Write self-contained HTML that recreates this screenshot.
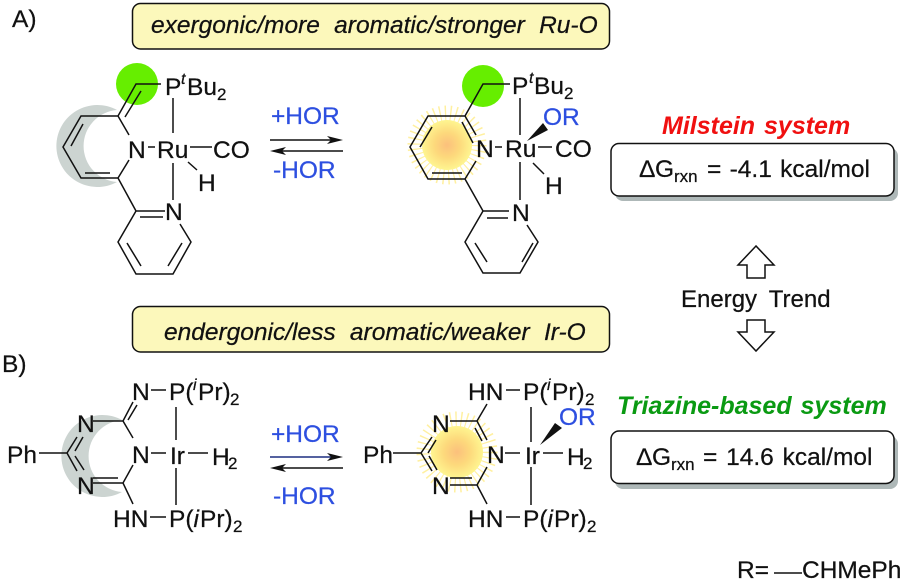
<!DOCTYPE html>
<html><head><meta charset="utf-8">
<style>
html,body{margin:0;padding:0;background:#fff;width:904px;height:583px;overflow:hidden}
svg{display:block}
text{font-family:"Liberation Sans",sans-serif;font-size:24.5px;fill:#111;stroke:#111;stroke-width:.25}
.b{fill:#2d4fe0;stroke:#2d4fe0}
.i{font-style:italic}
.s{font-size:17px}
.u{font-size:16px;font-style:italic}
.l{stroke:#111;stroke-width:1.5;fill:none;stroke-linejoin:miter}
</style></head><body>
<svg width="904" height="583" viewBox="0 0 904 583" xmlns="http://www.w3.org/2000/svg">
<defs>
<radialGradient id="g" cx="50%" cy="50%" r="50%"><stop offset="0" stop-color="#fcc07c"/><stop offset=".5" stop-color="#fdd97c"/><stop offset="1" stop-color="#fef590"/></radialGradient>
</defs>

<!-- yellow boxes -->
<rect x="132.500" y="3.500" width="477" height="45.500" rx="8" fill="#fcf8bb" stroke="#111" stroke-width="1.500"/>
<text x="151" y="33" class="i" style="word-spacing:7.500px">exergonic/more aromatic/stronger Ru-O</text>
<rect x="132.500" y="306.500" width="477" height="45.500" rx="8" fill="#fcf8bb" stroke="#111" stroke-width="1.500"/>
<text x="164" y="340" class="i" style="word-spacing:7.500px">endergonic/less aromatic/weaker Ir-O</text>

<text x="12" y="27">A)</text>
<text x="2" y="372">B)</text>

<!-- A left -->
<circle cx="137" cy="84" r="21" fill="#66ee00"/>
<path d="M117 110A41 41 0 1 0 117 182A36.100 36.100 0 0 1 117 110Z" fill="#ccd4d1"/>
<path class="l" d="M161 84H136L118 116L129 135M118 116H81L63 147L81 178H118L129 160M141 91L125 117M83 124L71 146M85 173H110M118 178L136 211H165M140 217H163M180 224L191 242L173 274H136L118 242L136 211M127 243L141 266M168 266L182 243M173 98V133M173 163V200M148 147H155M190 147H212M188 162L197 170"/>
<text x="128" y="158">N</text><text x="157" y="158">Ru</text><text x="213" y="158">CO</text><text x="198" y="191">H</text>
<text x="165" y="95">P</text><text x="181" y="84" class="u">t</text><text x="187" y="95">Bu</text><text x="217" y="100" class="s">2</text>
<text x="165" y="220">N</text>

<!-- arrows A -->
<text x="271" y="124" class="b">+HOR</text><text x="273" y="178" class="b">-HOR</text>
<path class="l" d="M270 140H336M277 151H343"/>
<path d="M343 140L327 136L331 140L327 144ZM270 151L286 147L282 151L286 155Z" fill="#111"/>

<!-- A right -->
<circle cx="483" cy="86" r="21" fill="#66ee00"/>
<circle cx="447" cy="145" r="32" fill="none" stroke="#fff0a0" stroke-width="15" stroke-dasharray="1.300 4"/>
<circle cx="447" cy="145" r="25" fill="url(#g)"/>
<path class="l" d="M510 84H483L465 116L476 135M465 116H428L410 147L428 179H465L476 161M462 122L473 143M432 127L420 147M432 173H462M465 179L483 211H509M487 218H508M527 225L538 242L520 273H483L465 242L483 211M475 243L487 262M522 262L533 243M520 98V135M520 162V200M495 147H502M538 147H552M533 163L544 174"/>
<path d="M527 141L543 123L548 130Z" fill="#111"/>
<text x="476" y="157">N</text><text x="505" y="157">Ru</text><text x="555" y="157">CO</text><text x="545" y="194">H</text>
<text x="512" y="94">P</text><text x="529" y="83" class="u">t</text><text x="534" y="94">Bu</text><text x="564" y="99" class="s">2</text>
<text x="512" y="221">N</text>
<text x="543" y="125" class="b">OR</text>

<!-- B left -->
<path d="M122 420A41 41 0 1 0 122 492A36.100 36.100 0 0 1 122 420Z" fill="#ccd4d1"/>
<path class="l" d="M39 453H67L77 437M75 451L83 437M67 453L77 471M75 456L84 470M93 421H123L133 438M123 421L133 402M128 420L137 405M93 478H118M93 483H123L133 465M123 483L133 504M176 407V440M176 468V505M151 453H166M188 453H208M151 390H166M150 517H166"/>
<text x="7" y="463">Ph</text>
<text x="77" y="432">N</text><text x="77" y="494">N</text><text x="132" y="463">N</text><text x="170" y="464">Ir</text>
<text x="212" y="465">H</text><text x="228" y="469" class="s">2</text>
<text x="132" y="400">N</text><text x="169" y="400">P(</text><text x="193" y="390" class="u">i</text><text x="198" y="400">Pr)</text><text x="230" y="405" class="s">2</text>
<text x="113" y="527">HN</text><text x="169" y="527">P(</text><text x="193.500" y="527" class="i">i</text><text x="200" y="527">Pr)</text><text x="233" y="532" class="s">2</text>

<!-- arrows B -->
<text x="271" y="442" class="b">+HOR</text><text x="273" y="504" class="b">-HOR</text>
<path d="M270 457H336" stroke="#1d2f80" stroke-width="1.500"/>
<path class="l" d="M277 468H343"/>
<path d="M343 457L327 453L331 457L327 461ZM270 468L286 464L282 468L286 472Z" fill="#111"/>

<!-- B right -->
<circle cx="457" cy="452" r="33" fill="none" stroke="#fff0a0" stroke-width="15" stroke-dasharray="1.300 4"/>
<circle cx="457" cy="452" r="26" fill="url(#g)"/>
<path class="l" d="M393 453H421L432 437M428 453L436 440M421 453L432 471M429 456L437 470M450 421H477L487 440M475 428L482 441M477 421L487 404M450 478H472M450 485H477L487 467M477 485L487 504M531 407V442M531 467V505M505 453H520M543 453H563M506 390H520M506 517H520"/>
<path d="M540 445L555 423L562 428Z" fill="#111"/>
<text x="363" y="463">Ph</text>
<text x="432" y="432">N</text><text x="432" y="494">N</text><text x="487" y="463">N</text><text x="525" y="464">Ir</text>
<text x="567" y="465">H</text><text x="583" y="469" class="s">2</text>
<text x="468" y="400">HN</text><text x="523" y="400">P(</text><text x="547" y="390" class="u">i</text><text x="552" y="400">Pr)</text><text x="585" y="405" class="s">2</text>
<text x="468" y="527">HN</text><text x="523" y="527">P(</text><text x="547.500" y="527" class="i">i</text><text x="554" y="527">Pr)</text><text x="587" y="532" class="s">2</text>
<text x="559" y="425" class="b">OR</text>

<!-- right panel -->
<text x="662" y="134" class="i" style="font-size:25px;font-weight:bold;fill:#f01010;stroke:none;word-spacing:2px">Milstein system</text>
<rect x="615" y="148" width="283" height="53" rx="8" fill="#aeb8b8"/>
<rect x="611" y="143.500" width="283" height="52.500" rx="8" fill="#fff" stroke="#111" stroke-width="1.500"/>
<text x="639" y="177">Δ</text><text x="655" y="177">G</text><text x="674" y="182" class="s">rxn</text>
<text x="707" y="177" style="word-spacing:1.500px">= -4.1 kcal/mol</text>

<path class="l" d="M756 246L738 265H747V278H765V265H774Z"/>
<text x="681" y="307" style="font-size:24px;word-spacing:5.500px">Energy Trend</text>
<path class="l" d="M747 320V332H738L756 351L774 332H765V320Z"/>

<text x="617" y="414" class="i" style="font-size:25px;font-weight:bold;fill:#0a9a12;stroke:none;word-spacing:2px">Triazine-based system</text>
<rect x="615" y="436" width="283" height="53" rx="8" fill="#aeb8b8"/>
<rect x="611" y="431" width="283" height="52.500" rx="8" fill="#fff" stroke="#111" stroke-width="1.500"/>
<text x="636" y="465">Δ</text><text x="652" y="465">G</text><text x="671" y="470" class="s">rxn</text>
<text x="703" y="465" style="word-spacing:2px">= 14.6 kcal/mol</text>

<text x="737" y="578">R=</text>
<path class="l" d="M774 573H802"/>
<text x="802" y="578">CHMePh</text>
</svg>
</body></html>
